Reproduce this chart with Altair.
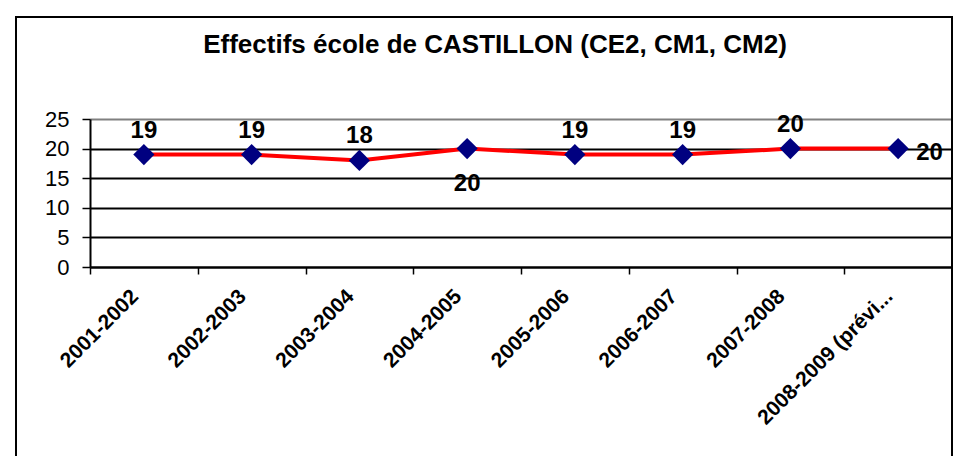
import altair as alt
import pandas as pd

# --- data ---
titre = "Effectifs école de CASTILLON (CE2, CM1, CM2)"
annees = ["2001-2002", "2002-2003", "2003-2004", "2004-2005",
          "2005-2006", "2006-2007", "2007-2008", "2008-2009 (prévi..."]
effectifs = [19, 19, 18, 20, 19, 19, 20, 20]
position_etiquette = ["dessus", "dessus", "dessus", "dessous",
                      "dessus", "dessus", "dessus", "droite"]

df = pd.DataFrame({"annee": annees, "effectif": effectifs, "pos": position_etiquette})

FONT = "Liberation Sans, Arial, sans-serif"
W = 862

x_enc = alt.X(
    "annee:N",
    sort=annees,
    scale=alt.Scale(paddingInner=0, paddingOuter=0),
    axis=alt.Axis(
        title=None,
        labelAngle=-45,
        labelAlign="right",
        labelBaseline="middle",
        labelFontWeight="bold",
        labelFontSize=21,
        labelFont=FONT,
        labelColor="black",
        labelPadding=19,
        labelOffset=-9,
        labelLimit=400,
        tickBand="extent",
        tickSize=7,
        tickColor="black",
        tickWidth=1.5,
        domainColor="black",
        domainWidth=2,
        grid=False,
    ),
)
y_enc = alt.Y(
    "effectif:Q",
    scale=alt.Scale(domain=[0, 25], nice=False, zero=True),
    axis=alt.Axis(
        title=None,
        values=[0, 5, 10, 15, 20, 25],
        labelFontSize=22,
        labelFont=FONT,
        labelColor="black",
        labelPadding=13,
        tickSize=8,
        tickColor="black",
        tickWidth=1.5,
        domainColor="black",
        domainWidth=2,
        grid=True,
        gridColor={"condition": {"test": "datum.value == 25", "value": "#808080"}, "value": "black"},
        gridWidth=2,
        gridOpacity=1,
    ),
)

base = alt.Chart(df)

ligne = base.mark_line(color="#FF0000", strokeWidth=4).encode(x=x_enc, y=y_enc)
points = base.mark_point(shape="diamond", filled=True, color="#000080", size=450, opacity=1).encode(
    x=x_enc, y=y_enc
)

txt_style = dict(fontSize=24, fontWeight="bold", font=FONT, color="black", baseline="middle")
dessus = base.transform_filter(alt.datum.pos == "dessus").mark_text(dy=-24, **txt_style).encode(
    x=x_enc, y=y_enc, text="effectif:Q"
)
dessous = base.transform_filter(alt.datum.pos == "dessous").mark_text(dy=35, **txt_style).encode(
    x=x_enc, y=y_enc, text="effectif:Q"
)
droite = base.transform_filter(alt.datum.pos == "droite").mark_text(
    dx=18, dy=4, align="left", **txt_style
).encode(x=x_enc, y=y_enc, text="effectif:Q")

cadre = alt.Chart(df).mark_rect(fillOpacity=0, stroke="black", strokeWidth=2).encode(
    x=alt.value(-74), x2=alt.value(W), y=alt.value(-102), y2=alt.value(380)
)

titre_txt = alt.Chart(pd.DataFrame({"t": [titre]})).mark_text(
    font=FONT, fontSize=26, fontWeight="bold", color="black", align="center", baseline="middle"
).encode(x=alt.value(405), y=alt.value(-74), text="t:N")

chart = (
    alt.layer(cadre, ligne, points, dessus, dessous, droite, titre_txt)
    .properties(
        width=W,
        height=148,
        autosize=alt.AutoSizeParams(type="none"),
        padding={"left": 82, "top": 111, "right": 1, "bottom": 189},
    )
    .configure_view(fill="#FFFFCC", stroke="#808080", strokeWidth=2)
    .configure(background="white")
)

chart.save("out.html", embed_options={"renderer": "svg", "actions": False})
